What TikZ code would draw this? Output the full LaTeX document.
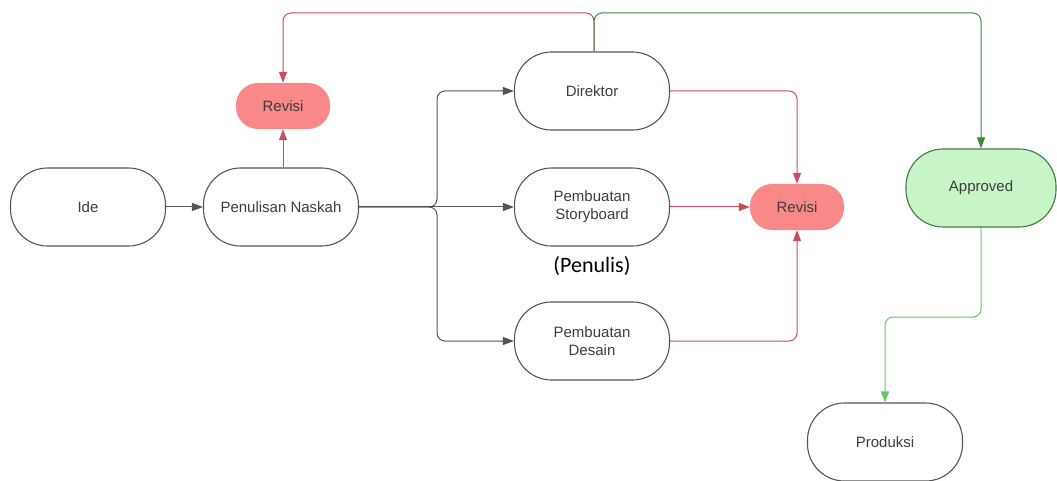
\documentclass[tikz,border=0pt]{standalone}
\usepackage{fontspec}
\setmainfont{Liberation Sans}
\newfontfamily\notefont{Carlito}
\usetikzlibrary{arrows.meta}

\definecolor{boxline}{RGB}{85,85,85}
\definecolor{boxtext}{RGB}{60,60,60}
\definecolor{revfill}{RGB}{249,136,136}
\definecolor{revline}{RGB}{205,75,95}
\definecolor{okfill}{RGB}{200,245,200}
\definecolor{okline}{RGB}{60,140,60}
\definecolor{oklight}{RGB}{100,200,100}

\begin{document}
\begin{tikzpicture}[x=1pt, y=-1pt,
    step box/.style={draw=boxline, line width=1.1pt, rounded corners=37pt,
      minimum width=155pt, minimum height=78pt, align=center, text=boxtext,
      font=\fontsize{15}{18}\selectfont},
    revisi box/.style={fill=revfill, rounded corners=22pt, minimum width=94pt,
      minimum height=46pt, text=boxtext, font=\fontsize{15}{18}\selectfont},
    arrowline/.style={draw=boxline, line width=1pt, rounded corners=8pt,
      -{Triangle[length=11pt,width=8pt]}},
    redline/.style={arrowline, draw=revline},
    greenline/.style={arrowline, draw=okline},
    lightline/.style={arrowline, draw=oklight}]
  \useasboundingbox (0,0) rectangle (1057,481);

  % Tahap awal
  \node[step box] (ide) at (88,207) {Ide};
  \node[step box] (naskah) at (281,207) {Penulisan Naskah};
  \node[revisi box] (revisiA) at (283,106) {Revisi};

  % Tahap produksi awal
  \node[step box] (direktor) at (592,91) {Direktor};
  \node[step box] (storyboard) at (592,207) {Pembuatan\\Storyboard};
  \node[text=black, font=\notefont\fontsize{22}{26}\selectfont] (penulis) at (592,266) {(Penulis)};
  \node[step box] (desain) at (592,341) {Pembuatan\\Desain};
  \node[revisi box] (revisiB) at (797,207) {Revisi};

  % Hasil
  \node[step box, fill=okfill, draw=okline!60!boxline, minimum width=150pt] (approved) at (981,188) {Approved};
  \node[step box] (produksi) at (885,442) {Produksi};

  % Titik belok
  \coordinate (bus) at (437,207);
  \coordinate (atas) at (594,13);
  \coordinate (belok) at (930,317);

  % Panah
  \draw[arrowline] (ide) -- (naskah);
  \draw[redline] (revisiA |- naskah.north) -- (revisiA);
  \draw[arrowline] (naskah.east) -- (bus) |- (direktor.west);
  \draw[arrowline] (naskah.east) -- (storyboard.west);
  \draw[arrowline] (naskah.east) -- (bus) |- (desain.west);
  \draw[redline] (atas |- direktor.north) -- (atas) -| (revisiA.north);
  \draw[greenline] (atas |- direktor.north) -- (atas) -| (approved.north);
  \draw[redline] (direktor.east) -| (revisiB.north);
  \draw[redline] (storyboard) -- (revisiB);
  \draw[redline] (desain.east) -| (revisiB.south);
  \draw[lightline] (approved.south) |- (belok) -| (produksi.north);
\end{tikzpicture}
\end{document}
